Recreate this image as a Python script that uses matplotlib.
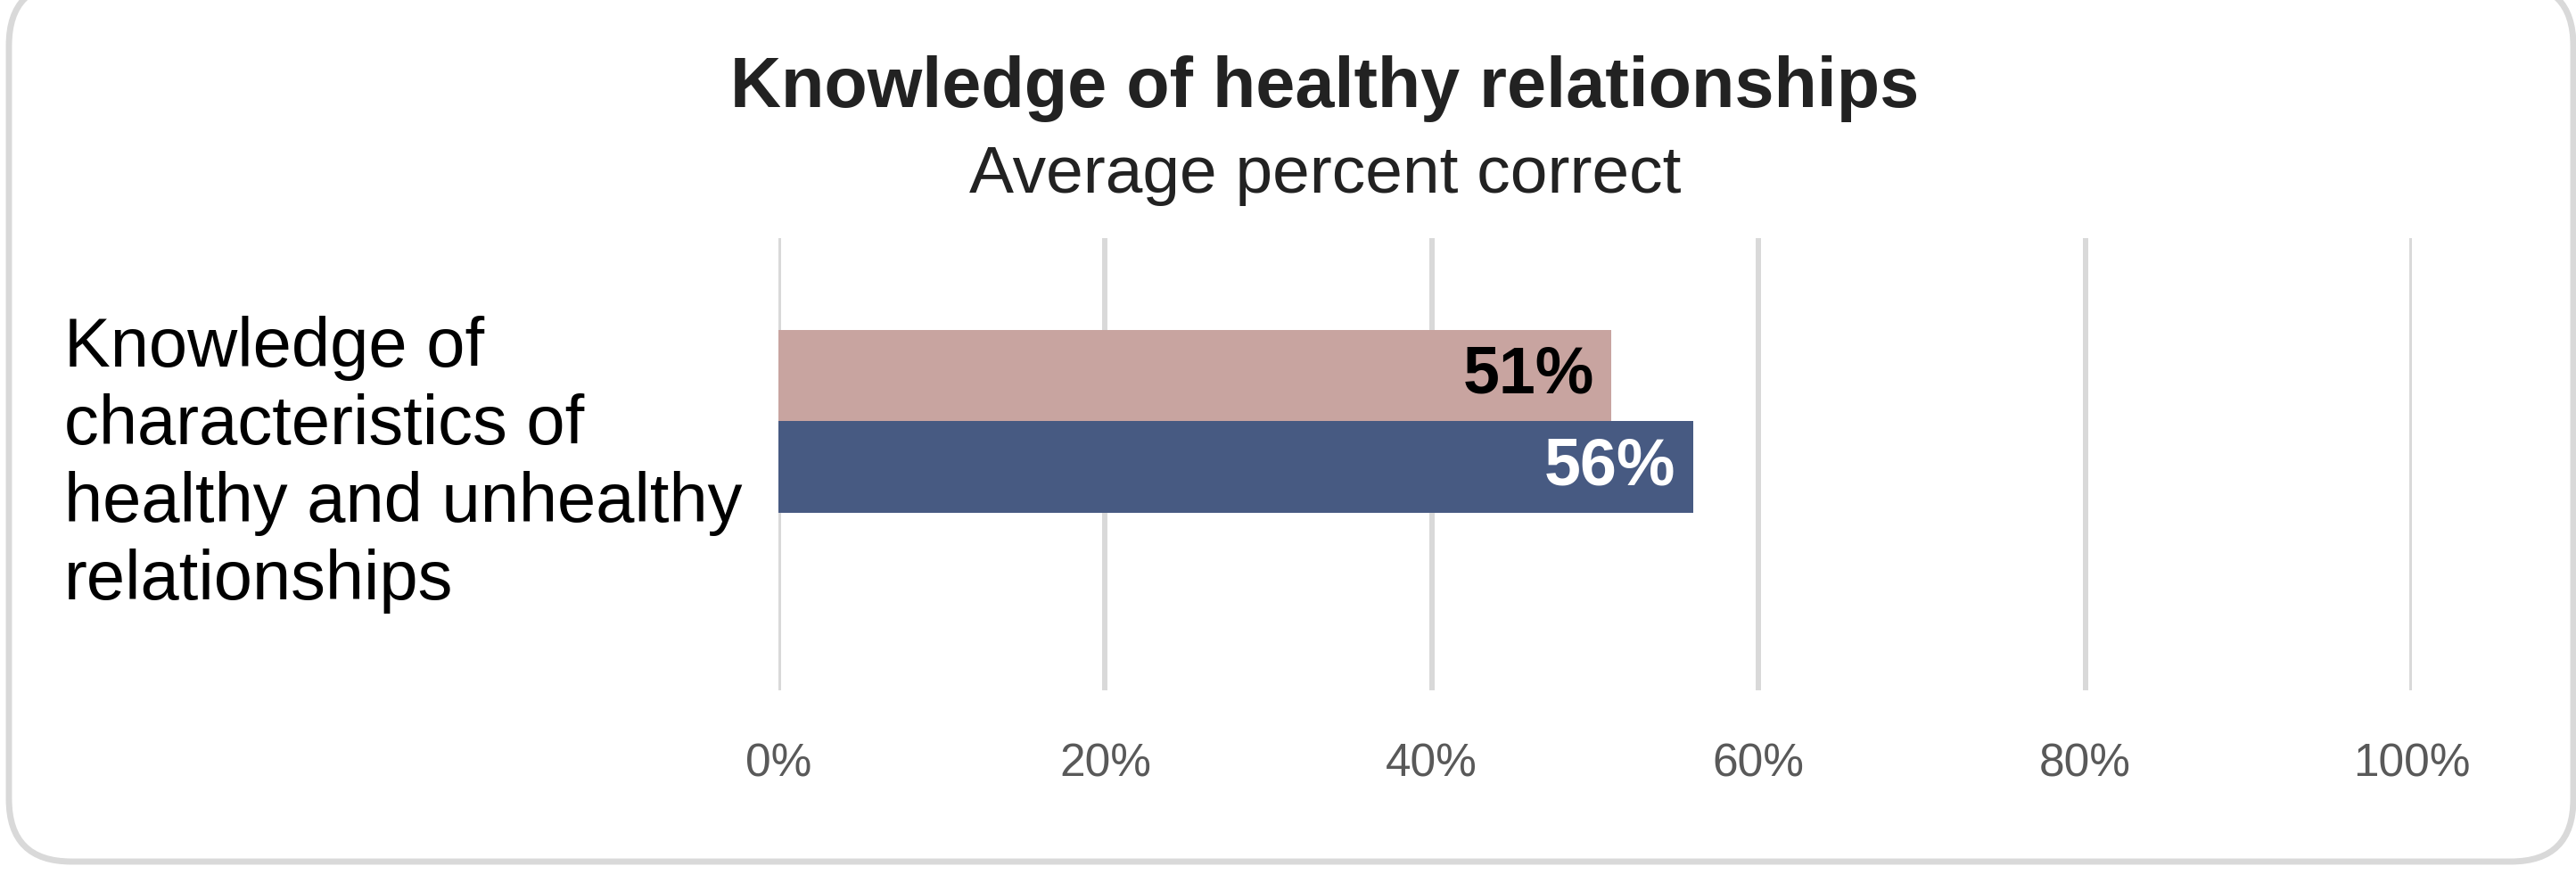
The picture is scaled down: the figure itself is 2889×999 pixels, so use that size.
import matplotlib.pyplot as plt
from matplotlib.patches import FancyBboxPatch
from matplotlib.transforms import IdentityTransform

plt.rcParams['font.family'] = ['Liberation Sans', 'DejaVu Sans']

# data
category = "Knowledge of\ncharacteristics of\nhealthy and unhealthy\nrelationships"
series_values = [51, 56]
series_colors = ['#C8A4A0', '#475A82']
label_colors = ['black', 'white']
bar_offsets = [0.25, -0.25]
x_ticks = [0, 20, 40, 60, 80, 100]
x_tick_labels = ['0%', '20%', '40%', '60%', '80%', '100%']

W, H = 2889, 999
fig = plt.figure(figsize=(W / 100, H / 100), dpi=100)

# rounded frame (filled so agg does not clip the curves badly)
frame = FancyBboxPatch((10, 33), 2876, 985, boxstyle="round,pad=0,rounding_size=70",
                       transform=IdentityTransform(), facecolor='white',
                       edgecolor='#D9D9D9', linewidth=5, zorder=-1)
fig.patches.append(frame)

ax = fig.add_axes([873 / W, 1 - 774 / H, 1832 / W, 507 / H])
ax.set_facecolor('none')
for v, off, c, lc in zip(series_values, bar_offsets, series_colors, label_colors):
    ax.barh(off, v, height=0.5, color=c, zorder=2)
    ax.annotate(f"{v}%", xy=(v, off), xytext=(-14, 0), textcoords='offset points',
                ha='right', va='center', fontsize=53, fontweight='bold', color=lc, zorder=3)

ax.set_xlim(0, 100)
ax.set_ylim(-1.47, 1.0)
ax.set_xticks(x_ticks)
ax.set_xticklabels(x_tick_labels, fontsize=37, color='#595959')
ax.set_yticks([])
ax.tick_params(axis='x', length=0, pad=42)
ax.grid(axis='x', color='#D9D9D9', linewidth=4.3, zorder=1)
ax.set_axisbelow(True)
for s in ax.spines.values():
    s.set_visible(False)

fig.text(72 / W, 1 - 521 / H, category, ha='left', va='center', fontsize=56,
         linespacing=1.25, color='black')

fig.text(1486 / W, 1 - 120 / H, "Knowledge of healthy relationships", ha='center',
         va='baseline', fontsize=57, fontweight='bold', color='#222222')
fig.text(1486 / W, 1 - 216 / H, "Average percent correct", ha='center',
         va='baseline', fontsize=54, color='#222222')

fig.savefig('out.png', dpi=100)
